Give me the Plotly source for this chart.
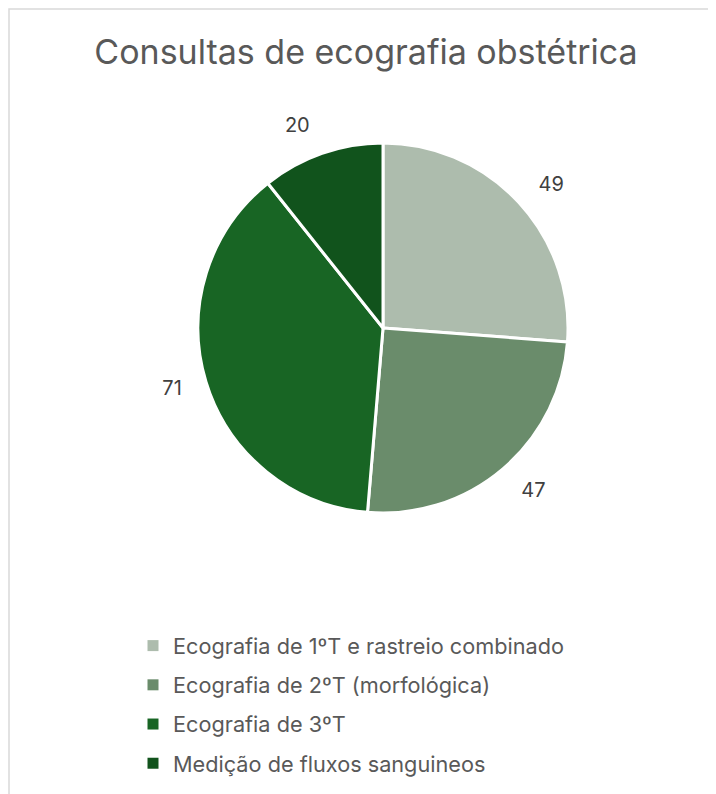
import plotly.graph_objects as go

# Daten
categorias = [
    "Ecografia de 1ºT e rastreio combinado",
    "Ecografia de 2ºT (morfológica)",
    "Ecografia de 3ºT",
    "Medição de fluxos sanguineos",
]
consultas = [49, 47, 71, 20]
cores = ["#ADBCAD", "#6A8C6B", "#186524", "#11531C"]

W, H = 716, 794

# Pie-Geometrie (Pixel im Figure-Koordinatensystem)
cx, cy, r = 375, 320, 185
r_lbl = 204  # Radius für die Beschriftung (etwas weiter außen)


def dominio(raio):
    return dict(
        x=[(cx - raio) / W, (cx + raio) / W],
        y=[1 - (cy + raio) / H, 1 - (cy - raio) / H],
    )


fig = go.Figure()

# Pie-Chart
fig.add_trace(
    go.Pie(
        labels=categorias,
        values=consultas,
        sort=False,
        direction="clockwise",
        rotation=0,
        marker=dict(colors=cores, line=dict(color="white", width=3)),
        textinfo="none",
        domain=dominio(r),
        hoverinfo="label+value",
        showlegend=False,
    )
)

# Werte-Beschriftung (transparenter Pie, etwas größer)
fig.add_trace(
    go.Pie(
        labels=categorias,
        values=consultas,
        sort=False,
        direction="clockwise",
        rotation=0,
        marker=dict(colors=["rgba(0,0,0,0)"] * len(consultas), line=dict(width=0)),
        textinfo="value",
        textposition="outside",
        textfont=dict(family="Inter", size=20, color="#404040"),
        domain=dominio(r_lbl),
        hoverinfo="skip",
        showlegend=False,
    )
)

# Legende (eigene Gruppen, damit der Abstand passt)
for nome, cor in zip(categorias, cores):
    fig.add_trace(
        go.Scatter(
            x=[None], y=[None],
            mode="markers",
            name=nome,
            legendgroup=nome,
            marker=dict(symbol="square", size=11, color=cor),
            hoverinfo="skip",
        )
    )

fig.update_layout(
    width=W,
    height=H,
    margin=dict(l=0, r=0, t=0, b=0),
    paper_bgcolor="white",
    plot_bgcolor="white",
    xaxis=dict(visible=False),
    yaxis=dict(visible=False),
    title=dict(
        text="Consultas de ecografia obstétrica",
        x=358 / W,
        xanchor="center",
        y=1 - 44 / H,
        yanchor="middle",
        font=dict(family="Inter", size=34, color="#595959"),
    ),
    legend=dict(
        orientation="v",
        x=125 / W,
        xanchor="left",
        y=1 - 617 / H,
        yanchor="top",
        font=dict(family="Inter", size=21.7, color="#595959"),
        itemwidth=30,
        tracegroupgap=8,
    ),
    shapes=[
        dict(
            type="rect",
            xref="paper", yref="paper",
            x0=1 / W, x1=1.2, y0=-0.2, y1=1 - 1 / H,
            line=dict(color="#D9D9D9", width=1.5),
        )
    ],
)

fig.write_html("out.html")
